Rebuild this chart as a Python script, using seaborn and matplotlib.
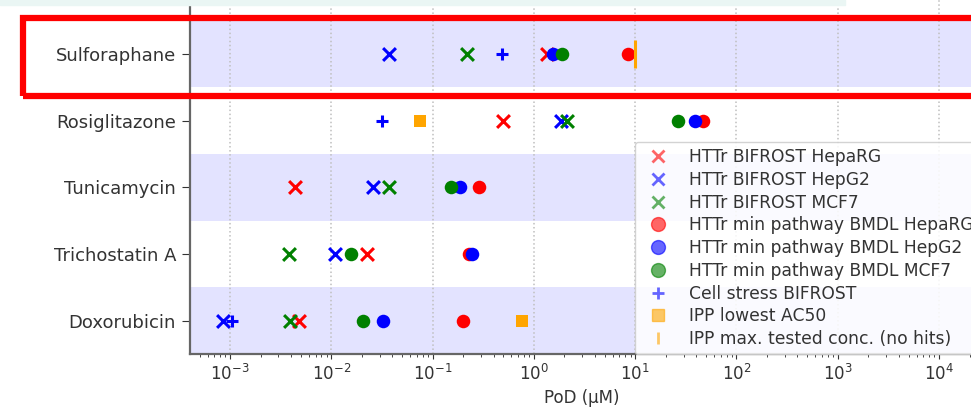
import numpy as np
import pandas as pd

import matplotlib
matplotlib.use('Agg')
import matplotlib.pyplot as plt
import seaborn as sns
from matplotlib.lines import Line2D
from matplotlib.patches import Rectangle

# ------------------- DATA -------------------

compounds = ["Sulforaphane", "Rosiglitazone", "Tunicamycin", "Trichostatin A", "Doxorubicin"]

bifrost_heparg = [1.34, 0.49, 0.0044, 0.0226, 0.0048]
bifrost_hepg2 = [0.037, 1.87, 0.0257, 0.0109, 0.00086]
bifrost_mcf7 = [0.22, 2.1, 0.037, 0.0038, 0.0039]
bmdl_heparg = [8.4, 47.0, 0.29, 0.23, 0.20]
bmdl_hepg2 = [1.53, 39.0, 0.186, 0.243, 0.0326]
bmdl_mcf7 = [1.88, 26.7, 0.151, 0.0155, 0.0204]
cell_stress = [0.48, 0.032, np.nan, np.nan, 0.00104]
ipp_ac50 = [np.nan, 0.075, np.nan, np.nan, 0.77]
ipp_max_conc = [10.0, np.nan, np.nan, np.nan, np.nan]

series_labels = [
    "HTTr BIFROST HepaRG",
    "HTTr BIFROST HepG2",
    "HTTr BIFROST MCF7",
    "HTTr min pathway BMDL HepaRG",
    "HTTr min pathway BMDL HepG2",
    "HTTr min pathway BMDL MCF7",
    "Cell stress BIFROST",
    "IPP lowest AC50",
    "IPP max. tested conc. (no hits)",
]
series_values = [bifrost_heparg, bifrost_hepg2, bifrost_mcf7,
                 bmdl_heparg, bmdl_hepg2, bmdl_mcf7,
                 cell_stress, ipp_ac50, ipp_max_conc]

# marker, colour, scatter size, legend marker size
styles = [
    ("x", "red", 85, 9),
    ("x", "blue", 85, 9),
    ("x", "green", 85, 9),
    ("o", "red", 95, 10),
    ("o", "blue", 95, 10),
    ("o", "green", 95, 10),
    ("+", "blue", 75, 9),
    ("s", "orange", 80, 9),
    ("|", "orange", 380, 9),
]


def build_table():
    rows = []
    for label, vals in zip(series_labels, series_values):
        for pos, (name, v) in enumerate(zip(compounds, vals)):
            if not np.isnan(v):
                rows.append({"series": label, "compound": name, "pos": pos, "pod": v})
    return pd.DataFrame(rows)


def plot_pod(df):
    sns.set_style("ticks")
    plt.rcParams['font.family'] = ['DejaVu Sans']

    fig = plt.figure(figsize=(9.71, 4.16), dpi=100)
    ax = fig.add_axes([190 / 971, 62 / 416, 784 / 971, 360 / 416])

    # alternating row bands
    for i in range(0, len(compounds), 2):
        ax.axhspan(i - 0.5, i + 0.5, color="blue", alpha=0.11, lw=0, zorder=0)

    for label, (marker, color, size, _) in zip(series_labels, styles):
        sub = df[df["series"] == label]
        if marker in ("x", "+", "|"):
            sns.scatterplot(data=sub, x="pod", y="pos", marker=marker, color=color,
                            s=size, linewidth=2.2, ax=ax, zorder=3, legend=False)
        else:
            sns.scatterplot(data=sub, x="pod", y="pos", marker=marker, color=color,
                            s=size, linewidth=0, ax=ax, zorder=3, legend=False)

    ax.set_xscale("log")
    ax.set_xlim(10 ** -3.395, 10 ** 4.345)
    ax.set_ylim(4.5, -0.9)
    ax.set_yticks(range(len(compounds)))
    ax.set_yticklabels(compounds, fontsize=13)
    ax.tick_params(axis="y", length=6, pad=4, colors="0.2")
    ax.tick_params(axis="x", labelsize=12, colors="0.2")
    ax.set_xlabel("PoD (\u00b5M)", fontsize=12, color="0.2")
    ax.set_ylabel("")
    ax.grid(axis="x", which="major", ls=":", color="0.75", lw=1.1, zorder=1)
    for side in ("left", "bottom"):
        ax.spines[side].set_color("0.4")
        ax.spines[side].set_linewidth(1.6)
    ax.spines["right"].set_visible(False)
    ax.spines["top"].set_visible(False)

    handles = [Line2D([], [], ls="none", marker=m, color=c, markersize=ms,
                      mew=2 if m in ("x", "+", "|") else 1, alpha=0.6)
               for (m, c, _, ms) in styles]
    leg = fig.legend(handles, series_labels, loc="upper left",
                     bbox_to_anchor=(635 / 971, 1 - 142 / 416), borderaxespad=0,
                     fontsize=12.3, labelspacing=0.28, borderpad=0.35,
                     framealpha=0.85, edgecolor="0.8")
    for t in leg.get_texts():
        t.set_color("0.2")

    # screenshot decorations: top strip and red highlight box
    fig.patches.append(Rectangle((0, 1 - 5 / 416), 845 / 971, 5 / 416,
                                 transform=fig.transFigure, color="#eaf6f4",
                                 zorder=10))
    fig.patches.append(Rectangle((23 / 971, 1 - 96 / 416), 1.0, 78 / 416,
                                 transform=fig.transFigure, fill=False,
                                 edgecolor="red", lw=4.5, zorder=10))

    fig.savefig("out.png", dpi=100)
    plt.close(fig)


if __name__ == "__main__":
    plot_pod(build_table())
